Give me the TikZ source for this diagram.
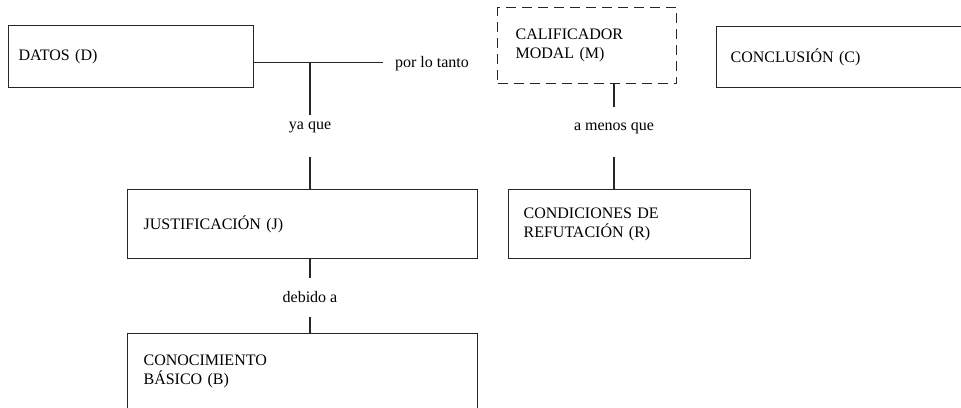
\documentclass[tikz,border=0pt]{standalone}
\usepackage{fontspec}
\setmainfont{Liberation Serif}
\begin{document}
\begin{tikzpicture}[x=1pt,y=-1pt,
 every node/.style={font=\fontsize{16}{19}\selectfont},
 caja/.style={draw=black!85,line width=1.2pt,align=left,inner xsep=15pt},
 enlace/.style={draw=black!85,line width=1.2pt},
 rotulo/.style={inner sep=0pt}]
 \useasboundingbox (0,0) rectangle (961,407);
 \clip (0,0) rectangle (961,407);
 % cajas
 \node[caja,anchor=north west,text width=225pt,inner xsep=10pt,minimum height=62pt] (D) at (8,25) {DATOS (D)};
 \node[caja,dash pattern=on 10pt off 6pt,anchor=north west,text width=143pt,inner xsep=18pt,minimum height=76pt] (M) at (497,7) {CALIFICADOR\\MODAL (M)};
 \node[caja,anchor=north west,text width=260pt,inner xsep=14pt,minimum height=61pt] (C) at (716,26) {CONCLUSIÓN (C)};
 \node[caja,anchor=north west,text width=318pt,inner xsep=16pt,minimum height=69pt] (J) at (127,189) {JUSTIFICACIÓN (J)};
 \node[caja,anchor=north west,text width=212pt,inner xsep=15pt,minimum height=69pt] (R) at (508,189) {CONDICIONES DE\\REFUTACIÓN (R)};
 \node[caja,anchor=north west,text width=318pt,inner xsep=16pt,inner ysep=21pt,text depth=60pt] (B) at (127,333) {CONOCIMIENTO\\BÁSICO (B)};
 % rotulos
 \node[rotulo] (tanto) at (432,64) {por lo tanto};
 \node[rotulo] (yaque) at (310,127) {ya que};
 \node[rotulo] (amenos) at (614,128) {a menos que};
 \node[rotulo] (debido) at (310,297) {debido a};
 % enlaces
 \coordinate (dt) at ([yshift=-6pt]D.east);
 \coordinate (j) at (dt -| yaque);
 \draw[enlace,shorten >=12pt] (dt) -- (dt -| tanto.west);
 \draw[enlace,shorten >=6.5pt] (j) -- (yaque.north);
 \draw[enlace,shorten <=24.5pt] (yaque.south) -- (J.north -| yaque);
 \draw[enlace,shorten >=15.5pt] (M.south -| amenos) -- (amenos.north);
 \draw[enlace,shorten <=23.5pt] (amenos.south) -- (R.north -| amenos);
 \draw[enlace,shorten >=13.5pt] (J.south -| debido) -- (debido.north);
 \draw[enlace,shorten <=14.5pt] (debido.south) -- (B.north -| debido);
\end{tikzpicture}
\end{document}
